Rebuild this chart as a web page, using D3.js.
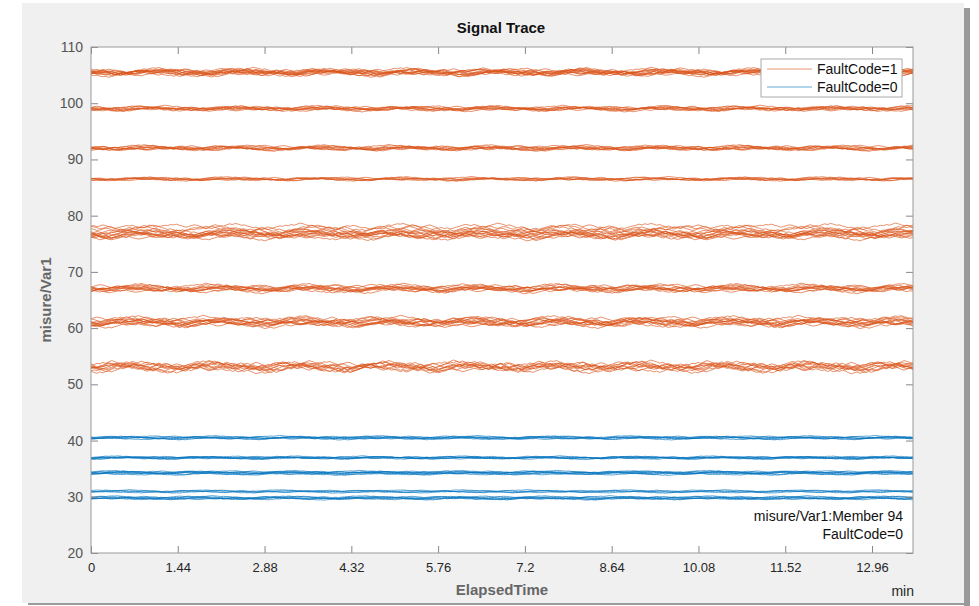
<!DOCTYPE html>
<html>
<head>
<meta charset="utf-8">
<script src="https://cdn.jsdelivr.net/npm/d3@7"></script>
<style>
  body { margin: 0; background: #fff; }
  svg { display: block; font-family: "Liberation Sans", Arial, Helvetica, sans-serif; }
</style>
</head>
<body>
<div id="chart"></div>
<script>
// x axis ticks (min) and y ticks
var xTicks = [0, 1.44, 2.88, 4.32, 5.76, 7.2, 8.64, 10.08, 11.52, 12.96];
var yTicks = [20, 30, 40, 50, 60, 70, 80, 90, 100, 110];
var xMax = 13.64;

// FaultCode=1 bands: mean level of each member trace, and band spread
var fault1Levels = [
  [105.2, 105.4, 105.5, 105.6, 105.8, 105.3, 105.7, 105.5, 105.1, 105.9, 105.4, 105.6],
  [98.8, 99.0, 99.1, 99.2, 98.9, 99.3, 99.0, 99.1],
  [91.8, 92.0, 92.1, 92.2, 91.9, 92.0, 92.3, 91.9],
  [86.4, 86.5, 86.6, 86.5, 86.7, 86.4],
  [78.1, 77.8, 77.3, 77.0, 76.8, 76.6, 76.4, 76.1, 77.5, 76.9, 76.5, 77.1, 76.3, 76.7],
  [66.6, 66.9, 67.0, 67.1, 67.2, 67.4, 66.8, 67.0, 67.5, 66.9],
  [60.5, 60.8, 61.0, 61.2, 61.4, 61.7, 60.7, 61.1, 61.3, 60.9, 61.5, 60.8],
  [52.7, 53.0, 53.2, 53.4, 53.6, 52.9, 53.3, 53.1, 53.5, 52.6]
];
var fault1Spread = [0.55, 0.4, 0.4, 0.3, 0.65, 0.55, 0.65, 0.8];

// FaultCode=0 bands
var fault0Levels = [
  [40.4, 40.5, 40.6, 40.7, 40.5, 40.3],
  [36.8, 36.9, 37.0, 37.1, 37.0, 36.9],
  [34.0, 34.2, 34.3, 34.4, 34.5, 34.1, 34.3],
  [30.8, 31.0, 31.1, 30.9],
  [29.6, 29.7, 29.8, 29.9, 30.0, 29.7]
];
var fault0Spread = [0.22, 0.22, 0.22, 0.18, 0.22];

// hand-read wobble of a member trace around its mean (normalised)
var wobble = [0.1,0.3,0.2,0.5,0.4,0.6,0.3,0.1,-0.2,-0.1,0.2,0.4,0.3,0.0,-0.3,-0.5,-0.4,-0.6,-0.3,-0.1,
  0.2,0.1,0.4,0.7,0.5,0.8,0.6,0.3,0.4,0.1,-0.1,-0.4,-0.2,-0.5,-0.7,-0.6,-0.9,-0.6,-0.4,-0.1,
  0.1,0.0,0.3,0.2,0.5,0.3,0.6,0.9,0.7,0.4,0.2,0.3,0.0,-0.2,0.1,-0.1,-0.3,-0.2,-0.5,-0.3,
  -0.6,-0.4,-0.1,0.2,0.0,0.3,0.1,-0.2,-0.4,-0.3,-0.6,-0.8,-0.5,-0.7,-0.4,-0.2,0.1,0.4,0.2,0.5,
  0.7,0.6,0.8,0.5,0.3,0.1,0.2,-0.1,-0.3,-0.1,0.2,0.4,0.1,-0.2,-0.5,-0.3,-0.6,-0.4,-0.7,-0.5,
  -0.2,0.0,0.3,0.5,0.4,0.2,0.5,0.3,0.0,-0.2,-0.1,0.1,0.4,0.6,0.9,0.7,0.5,0.2,0.4,0.1,
  -0.2,-0.4,-0.1,-0.3,-0.6,-0.9,-0.7,-0.5,-0.8,-0.6,-0.3,-0.1,0.2,0.0,-0.2,0.1,0.3,0.2,0.5,0.3,
  0.6,0.4,0.1,-0.1,0.2,0.4,0.3,0.0,-0.3,-0.2,-0.4,-0.1,0.1,-0.2,-0.5,-0.7,-0.4,-0.6,-0.3,-0.1,
  0.1,0.3,0.6,0.4,0.7,0.5,0.8,0.6,0.3,0.5,0.2,-0.1,0.1,-0.2,-0.4,-0.2,-0.5,-0.3,0.0,0.2,
  -0.1,0.1,0.4,0.2,-0.1,-0.3,-0.6,-0.4,-0.2,0.0,0.2,0.1,0.3,0.0,-0.2,-0.4,-0.3,-0.1,0.1,0.3,0.2,0.0];

var colors = { f1: "#D95319", f0: "#0072BD" };

var W = 979, H = 606;
var margin = { top: 47, right: 66, bottom: 53, left: 91 };
var width = W - margin.left - margin.right;   // 822
var height = H - margin.top - margin.bottom;  // 506

var svg = d3.select("#chart").append("svg")
    .attr("width", W)
    .attr("height", H);

// figure frame (grey window with shadow)
svg.append("rect").attr("x", 964).attr("y", 8).attr("width", 6).attr("height", 598).attr("fill", "#9a9a9a");
svg.append("rect").attr("x", 28).attr("y", 603).attr("width", 942).attr("height", 2).attr("fill", "#9a9a9a");
svg.append("rect").attr("x", 22).attr("y", 3).attr("width", 942).attr("height", 600).attr("fill", "#f0f0f0");

var g = svg.append("g")
    .attr("transform", "translate(" + margin.left + "," + margin.top + ")");

var x = d3.scaleLinear().domain([0, xMax]).range([0, width]);
var y = d3.scaleLinear().domain([20, 110]).range([height, 0]);

g.append("rect").attr("width", width).attr("height", height).attr("fill", "#fff");

// traces
var nPts = 280;
var line = d3.line()
    .x(function (d) { return x(d[0]); })
    .y(function (d) { return y(d[1]); });

function makeTrace(level, spread, k) {
    var pts = [];
    var off = (k * 29) % wobble.length;
    for (var i = 0; i < nPts; i++) {
        pts.push([xMax * i / (nPts - 1), level + spread * wobble[(off + i) % wobble.length]]);
    }
    return pts;
}

var traces = [];
var k = 0;
fault1Levels.forEach(function (band, b) {
    band.forEach(function (lv) {
        traces.push({ c: colors.f1, pts: makeTrace(lv, fault1Spread[b], k++) });
    });
});
fault0Levels.forEach(function (band, b) {
    band.forEach(function (lv) {
        traces.push({ c: colors.f0, pts: makeTrace(lv, fault0Spread[b], k++) });
    });
});

g.append("g").selectAll("path")
    .data(traces)
    .enter().append("path")
    .attr("d", function (d) { return line(d.pts); })
    .attr("fill", "none")
    .attr("stroke", function (d) { return d.c; })
    .attr("stroke-width", 0.75)
    .attr("stroke-opacity", 0.85);

// axes with inward ticks
var axisColor = "#262626";
var tickLen = 7;
var xAxis = g.append("g")
    .attr("transform", "translate(0," + height + ")")
    .call(d3.axisBottom(x).tickValues(xTicks).tickSize(-tickLen).tickPadding(10)
        .tickFormat(function (d) { return String(d); }));
var yAxis = g.append("g")
    .call(d3.axisLeft(y).tickValues(yTicks).tickSize(-tickLen).tickPadding(8));
g.append("g")
    .call(d3.axisTop(x).tickValues(xTicks).tickSize(-tickLen).tickFormat(""));
g.append("g")
    .attr("transform", "translate(" + width + ",0)")
    .call(d3.axisRight(y).tickValues(yTicks).tickSize(-tickLen).tickFormat(""));

g.selectAll(".domain").remove();
g.selectAll(".tick line").attr("stroke", "#888");
g.selectAll(".tick text").attr("fill", axisColor).style("font-size", "13px")
    .style("font-family", "'Liberation Sans', Arial, sans-serif");
yAxis.selectAll(".tick text").attr("fill", "#555").style("font-size", "14px");

g.append("rect").attr("width", width).attr("height", height)
    .attr("fill", "none").attr("stroke", "#999").attr("stroke-width", 1);

// title and labels
svg.append("text").attr("x", 501).attr("y", 33).attr("text-anchor", "middle")
    .style("font-size", "15px").style("font-weight", "bold").attr("fill", "#111")
    .text("Signal Trace");
svg.append("text").attr("x", margin.left + width / 2).attr("y", 595).attr("text-anchor", "middle")
    .style("font-size", "15px").style("font-weight", "bold").attr("fill", "#666")
    .text("ElapsedTime");
svg.append("text").attr("transform", "translate(51," + (margin.top + height / 2) + ") rotate(-90)")
    .attr("text-anchor", "middle")
    .style("font-size", "15px").style("font-weight", "bold").attr("fill", "#666")
    .text("misure/Var1");
svg.append("text").attr("x", 914).attr("y", 596).attr("text-anchor", "end")
    .style("font-size", "14px").attr("fill", axisColor)
    .text("min");

// legend
var legItems = [{ label: "FaultCode=1", c: colors.f1 }, { label: "FaultCode=0", c: colors.f0 }];
var leg = svg.append("g").attr("transform", "translate(761,59)");
leg.append("rect").attr("width", 141).attr("height", 38)
    .attr("fill", "#fff").attr("stroke", "#aaa").attr("stroke-width", 1);
leg.selectAll("g.item")
    .data(legItems)
    .enter().append("g")
    .attr("class", "item")
    .attr("transform", function (d, i) { return "translate(0," + (10 + i * 18) + ")"; })
    .each(function (d) {
        var it = d3.select(this);
        it.append("line").attr("x1", 6).attr("x2", 51).attr("y1", 0).attr("y2", 0)
            .attr("stroke", d.c).attr("stroke-opacity", 0.6).attr("stroke-width", 1);
        it.append("text").attr("x", 56).attr("y", 5).style("font-size", "14px")
            .attr("fill", "#111").text(d.label);
    });

// data tip annotation
svg.append("text").attr("x", 903).attr("y", 521).attr("text-anchor", "end")
    .style("font-size", "14px").attr("fill", "#111").text("misure/Var1:Member 94");
svg.append("text").attr("x", 903).attr("y", 539).attr("text-anchor", "end")
    .style("font-size", "14px").attr("fill", "#111").text("FaultCode=0");
</script>
</body>
</html>
